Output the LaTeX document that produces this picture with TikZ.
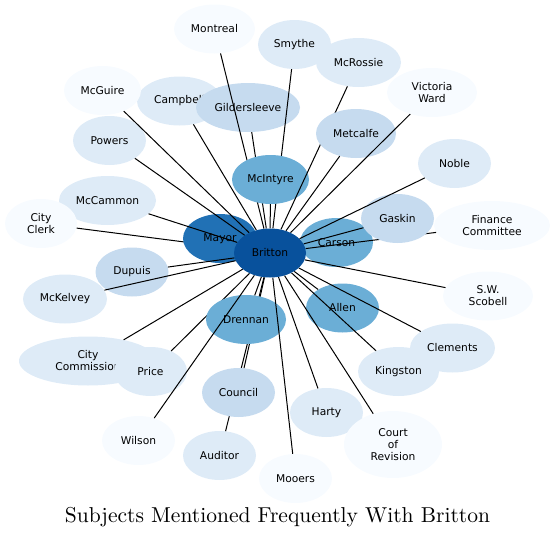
\documentclass[tikz,border=0pt]{standalone}
\usepackage{fontspec}
\usetikzlibrary{shapes.geometric}
\newfontfamily\labfont{DejaVu Sans}
\definecolor{cA}{HTML}{08519C}
\definecolor{cB}{HTML}{2171B5}
\definecolor{cC}{HTML}{6BAED6}
\definecolor{cD}{HTML}{C6DBEF}
\definecolor{cE}{HTML}{DEEBF7}
\definecolor{cF}{HTML}{F7FBFF}
\pgfdeclarelayer{front}
\pgfsetlayers{main,front}
\tikzset{
  bub/.style={ellipse, draw=none, inner sep=0pt, minimum height=49pt, align=center,
    font=\labfont\fontsize{10.7}{12}\selectfont, text=black},
  lnk/.style={draw=black, line width=1pt}
}
\begin{document}
\begin{tikzpicture}[x=1pt,y=-1pt]
\useasboundingbox (0,0) rectangle (555,538);
\begin{pgfonlayer}{front}
\node[bub, fill=cA, minimum width=72] (Britton) at (270,253) {Britton};
\end{pgfonlayer}
% top left
\node[bub, fill=cE, minimum width=85] (Campbell) at (179.5,101) {Campbell};
\draw[lnk] (Britton) -- (Campbell);
\node[bub, fill=cD, minimum width=104] (Gildersleeve) at (248,107.5) {Gildersleeve};
\draw[lnk] (Britton) -- (Gildersleeve);
\node[bub, fill=cF, minimum width=81] (Montreal) at (214.5,29) {Montreal};
\draw[lnk] (Britton) -- (Montreal);
\node[bub, fill=cE, minimum width=73] (Smythe) at (294.5,44.5) {Smythe};
\draw[lnk] (Britton) -- (Smythe);
\node[bub, fill=cC, minimum width=77] (McIntyre) at (270.5,179.5) {McIntyre};
\draw[lnk] (Britton) -- (McIntyre);
% left
\node[bub, fill=cF, minimum width=77] (McGuire) at (102.5,90.5) {McGuire};
\node[bub, fill=cE, minimum width=73] (Powers) at (109.5,140.5) {Powers};
\node[bub, fill=cE, minimum width=97] (McCammon) at (107.5,200.5) {McCammon};
\node[bub, fill=cF, minimum width=72] (CityClerk) at (41,223.5) {City\\Clerk};
\draw[lnk] (Britton) -- (CityClerk);
\node[bub, fill=cB, minimum width=74] (Mayor) at (220,238.5) {Mayor};
\draw[lnk] (Britton) -- (McCammon);
\draw[lnk] (Britton) -- (Powers);
\draw[lnk] (Britton) -- (McGuire);
% top right
\node[bub, fill=cE, minimum width=85] (McRossie) at (358.5,62.5) {McRossie};
\draw[lnk] (Britton) -- (McRossie);
\node[bub, fill=cD, minimum width=80] (Metcalfe) at (356,133.5) {Metcalfe};
\draw[lnk] (Britton) -- (Metcalfe);
\node[bub, fill=cF, minimum width=90] (Victoria) at (432,92.5) {Victoria\\Ward};
\draw[lnk] (Britton) -- (Victoria);
% right
\node[bub, fill=cC, minimum width=73] (Carson) at (336.5,242.5) {Carson};
\node[bub, fill=cF, minimum width=116] (Finance) at (492,225.5) {Finance\\Committee};
\draw[lnk] (Britton) -- (Finance);
\node[bub, fill=cD, minimum width=73] (Gaskin) at (397.5,218.5) {Gaskin};
\draw[lnk] (Britton) -- (Gaskin);
\node[bub, fill=cE, minimum width=73] (Noble) at (454.5,163.5) {Noble};
\draw[lnk] (Britton) -- (Noble);
% lower left
\node[bub, fill=cD, minimum width=73] (Dupuis) at (132,272) {Dupuis};
\draw[lnk] (Britton) -- (Dupuis);
\node[bub, fill=cE, minimum width=84] (McKelvey) at (65,299) {McKelvey};
\draw[lnk] (Britton) -- (McKelvey);
\node[bub, fill=cE, minimum width=138] (CityCommission) at (88,361) {City\\Commission};
\draw[lnk] (Britton) -- (CityCommission);
\node[bub, fill=cE, minimum width=73] (Price) at (150.5,371.5) {Price};
\draw[lnk] (Britton) -- (Price);
% bottom
\node[bub, fill=cE, minimum width=73] (Auditor) at (219.5,455.5) {Auditor};
\draw[lnk] (Britton) -- (Auditor);
\node[bub, fill=cD, minimum width=73] (Council) at (238.5,392.5) {Council};
\draw[lnk] (Britton) -- (Council);
\node[bub, fill=cC, minimum width=80] (Drennan) at (246,319.5) {Drennan};
\draw[lnk] (Britton) -- (Drennan);
\node[bub, fill=cF, minimum width=73] (Wilson) at (138.5,440.5) {Wilson};
\draw[lnk] (Britton) -- (Wilson);
\node[bub, fill=cF, minimum width=73] (Mooers) at (295.5,478.5) {Mooers};
\draw[lnk] (Britton) -- (Mooers);
% lower right
\node[bub, fill=cC, minimum width=73] (Allen) at (342.5,308) {Allen};
\draw[lnk] (Britton) -- (Allen);
\node[bub, fill=cF, minimum width=90] (Scobell) at (488,296) {S.W.\\Scobell};
\draw[lnk] (Britton) -- (Scobell);
\node[bub, fill=cE, minimum width=85] (Clements) at (452.5,348) {Clements};
\draw[lnk] (Britton) -- (Clements);
\node[bub, fill=cE, minimum width=81] (Kingston) at (398.5,371.5) {Kingston};
\draw[lnk] (Britton) -- (Kingston);
\node[bub, fill=cE, minimum width=73] (Harty) at (326.5,412.5) {Harty};
\draw[lnk] (Britton) -- (Harty);
\node[bub, fill=cF, minimum width=98, minimum height=67] (Court) at (393,444.5) {Court\\of\\Revision};
\draw[lnk] (Britton) -- (Court);
% title
\node[anchor=base, inner sep=0pt] (title) at (277.5,522) {\resizebox{425pt}{!}{\fontsize{10}{12}\selectfont Subjects Mentioned Frequently With Britton}};
\end{tikzpicture}
\end{document}
